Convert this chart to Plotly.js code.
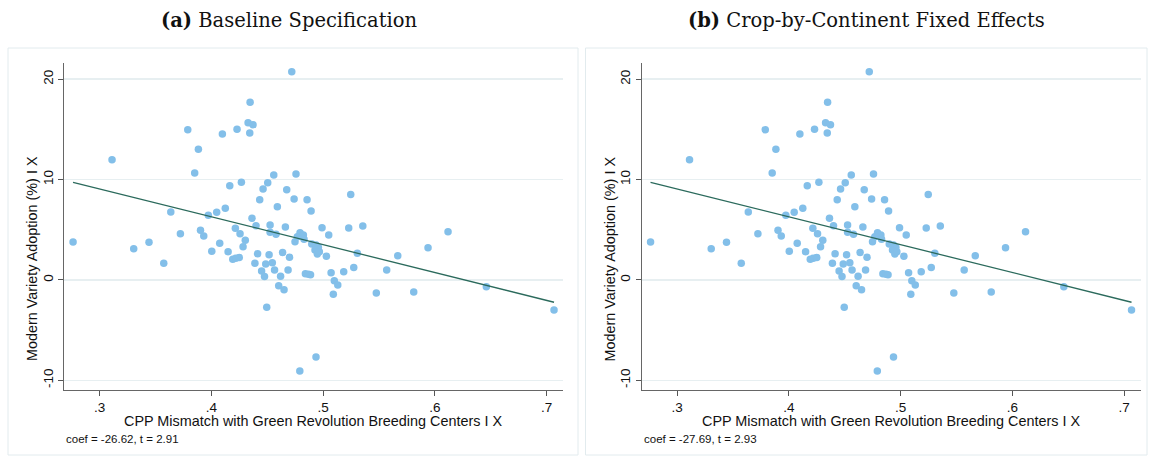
<!DOCTYPE html>
<html>
<head>
<meta charset="utf-8">
<script src="https://cdn.plot.ly/plotly-3.0.1.min.js"></script>
<style>
html,body{margin:0;padding:0;background:#fff;}
#chart{width:1149px;height:461px;}
</style>
</head>
<body>
<div id="chart"></div>
<script>
// ---- data ----
const xTickVals = [0.3, 0.4, 0.5, 0.6, 0.7];
const xTickText = ['.3', '.4', '.5', '.6', '.7'];
const yTickVals = [-10, 0, 10, 20];
const yTickText = ['-10', '0', '10', '20'];

// Panel (a): Baseline Specification
const mismatchA = [
  0.4719, 0.4346, 0.4328, 0.4372, 0.3788, 0.4229, 0.4098, 0.4343, 0.3883, 0.3110,
  0.3850, 0.4558, 0.4757, 0.4268, 0.4164, 0.4504, 0.4462, 0.4674, 0.4432, 0.4590,
  0.4740, 0.4856, 0.4892, 0.3636, 0.3972, 0.4047, 0.4124, 0.4363, 0.5247, 0.4399,
  0.4525, 0.4214, 0.4662, 0.4256, 0.4525, 0.4578, 0.4793, 0.4823, 0.4769, 0.4748,
  0.4829, 0.4898, 0.4936, 0.4957, 0.4927, 0.4948, 0.4966, 0.4990, 0.5050, 0.5229,
  0.5355, 0.6118, 0.5029, 0.5306, 0.5668, 0.5939, 0.2761, 0.3304, 0.3441, 0.3722,
  0.3573, 0.3902, 0.3931, 0.4074, 0.4003, 0.4149, 0.4303, 0.4283, 0.4191, 0.4218,
  0.4249, 0.4413, 0.4516, 0.4389, 0.4486, 0.4545, 0.4637, 0.4699, 0.4449, 0.4475,
  0.4565, 0.4686, 0.4619, 0.4841, 0.4869, 0.4887, 0.4602, 0.4650, 0.4495, 0.4936,
  0.4791, 0.5071, 0.5184, 0.5274, 0.5569, 0.5100, 0.5131, 0.5091, 0.5476, 0.5811,
  0.6461, 0.7067
];
const adoptionA = [
  20.75, 17.70, 15.67, 15.47, 14.97, 15.01, 14.54, 14.64, 13.02, 11.98,
  10.66, 10.46, 10.56, 9.73, 9.39, 9.69, 9.06, 8.99, 8.00, 7.30,
  8.07, 8.00, 6.87, 6.77, 6.44, 6.74, 7.14, 6.15, 8.50, 5.41,
  5.48, 5.15, 5.28, 4.61, 4.75, 4.55, 4.71, 4.48, 4.31, 3.81,
  4.05, 3.59, 3.49, 3.26, 2.99, 2.59, 2.82, 5.21, 4.48, 5.18,
  5.38, 4.81, 2.36, 2.66, 2.42, 3.22, 3.78, 3.12, 3.75, 4.61,
  1.66, 4.95, 4.38, 3.66, 2.86, 2.82, 3.95, 3.32, 2.06, 2.16,
  2.24, 2.61, 2.51, 1.67, 1.59, 1.71, 2.74, 2.26, 0.90, 0.35,
  1.00, 1.00, 0.37, 0.62, 0.57, 0.53, -0.57, -0.97, -2.72, -7.67,
  -9.06, 0.73, 0.83, 1.23, 1.00, -0.07, -0.50, -1.42, -1.29, -1.20,
  -0.67, -2.99
];
const fitXA = [0.2761, 0.7067];
const fitYA = [9.73, -2.22];

// Panel (b): Crop-by-Continent Fixed Effects (visually identical residuals)
const mismatchB = mismatchA.slice();
const adoptionB = adoptionA.slice();
const fitXB = [0.2761, 0.7067];
const fitYB = [9.73, -2.22];

const panelTitles = ['<b>(a)</b> Baseline Specification', '<b>(b)</b> Crop-by-Continent Fixed Effects'];
const coefTexts = ['coef = -26.62, t = 2.91', 'coef = -27.69, t = 2.93'];
const xTitle = 'CPP Mismatch with Green Revolution Breeding Centers I X';
const yTitle = 'Modern Variety Adoption (%) I X';

// ---- styling / layout ----
const W = 1149, H = 461;
const px = v => v / W;
const py = v => 1 - v / H;
const OFF = 577.5;

const dotColor = '#83bfe9';
const lineColor = '#2b6a5c';
const sans = 'Liberation Sans, Arial, sans-serif';
const serif = 'DejaVu Serif, serif';

const traces = [
  {x: mismatchA, y: adoptionA, type: 'scatter', mode: 'markers', xaxis: 'x', yaxis: 'y',
   marker: {color: dotColor, size: 7.5, line: {width: 0}}, hoverinfo: 'skip'},
  {x: fitXA, y: fitYA, type: 'scatter', mode: 'lines', xaxis: 'x', yaxis: 'y',
   line: {color: lineColor, width: 1.3}, hoverinfo: 'skip'},
  {x: mismatchB, y: adoptionB, type: 'scatter', mode: 'markers', xaxis: 'x2', yaxis: 'y2',
   marker: {color: dotColor, size: 7.5, line: {width: 0}}, hoverinfo: 'skip'},
  {x: fitXB, y: fitYB, type: 'scatter', mode: 'lines', xaxis: 'x2', yaxis: 'y2',
   line: {color: lineColor, width: 1.3}, hoverinfo: 'skip'}
];

function xAxis(d0, d1, anchor) {
  return {
    domain: [d0, d1], range: [0.268, 0.715], anchor: anchor,
    tickvals: xTickVals, ticktext: xTickText,
    ticks: 'outside', ticklen: 5, tickwidth: 1, tickcolor: '#555',
    showline: true, linecolor: '#666', linewidth: 1,
    showgrid: false, zeroline: false,
    tickfont: {family: sans, size: 13.5, color: '#111'}, fixedrange: true
  };
}
function yAxis(anchor) {
  return {
    domain: [py(390), py(63.3)], range: [-10.96, 21.58], anchor: anchor,
    tickvals: yTickVals, ticktext: yTickText, tickangle: -90,
    ticks: 'outside', ticklen: 5, tickwidth: 1, tickcolor: '#555',
    showline: true, linecolor: '#666', linewidth: 1,
    showgrid: true, gridcolor: '#e7eff1', gridwidth: 1.5, zeroline: false,
    tickfont: {family: sans, size: 13.5, color: '#111'}, fixedrange: true
  };
}

const annotations = [];
const shapes = [];
[0, 1].forEach(i => {
  const o = i * OFF;
  annotations.push({xref: 'paper', yref: 'paper', x: px(289 + o), y: py(21), text: panelTitles[i],
    showarrow: false, xanchor: 'center', yanchor: 'middle', font: {family: serif, size: 19.5, color: '#111'}});
  annotations.push({xref: 'paper', yref: 'paper', x: px(313 + o), y: py(421), text: xTitle,
    showarrow: false, xanchor: 'center', yanchor: 'middle', font: {family: sans, size: 14.4, color: '#111'}});
  annotations.push({xref: 'paper', yref: 'paper', x: px(32 + o), y: py(259), text: yTitle, textangle: -90,
    showarrow: false, xanchor: 'center', yanchor: 'middle', font: {family: sans, size: 14.4, color: '#111'}});
  annotations.push({xref: 'paper', yref: 'paper', x: px(64 + o), y: py(439), text: coefTexts[i],
    showarrow: false, xanchor: 'left', yanchor: 'middle', font: {family: sans, size: 11.5, color: '#111'}});
  shapes.push({type: 'rect', xref: 'paper', yref: 'paper',
    x0: px(8 + o), x1: px(i === 0 ? 578 : 1147), y0: py(455), y1: py(48),
    line: {color: '#e2ebee', width: 1}, fillcolor: 'rgba(0,0,0,0)', layer: 'below'});
});

const layout = {
  width: W, height: H,
  margin: {l: 0, r: 0, t: 0, b: 0},
  paper_bgcolor: '#ffffff', plot_bgcolor: '#ffffff',
  showlegend: false,
  xaxis: xAxis(px(64), px(563.3), 'y'),
  yaxis: yAxis('x'),
  xaxis2: xAxis(px(64 + OFF), px(563.3 + OFF), 'y2'),
  yaxis2: yAxis('x2'),
  annotations: annotations,
  shapes: shapes
};

Plotly.newPlot('chart', traces, layout, {displayModeBar: false, staticPlot: true});
</script>
</body>
</html>
